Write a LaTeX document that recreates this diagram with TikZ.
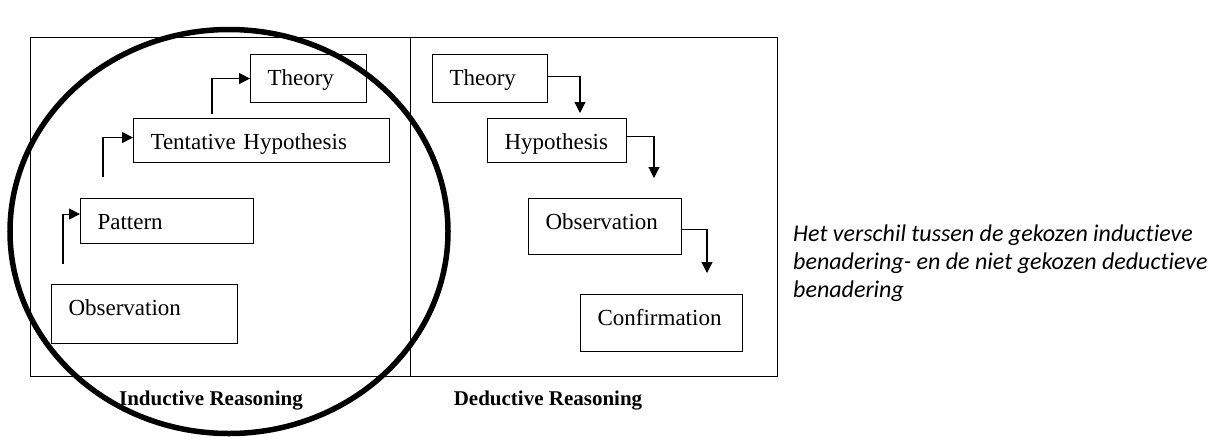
\documentclass[tikz,border=0pt]{standalone}
\usepackage{fontspec}
\setmainfont{Liberation Serif}
\newfontfamily\notefont[Ligatures=NoCommon]{Carlito}
\usetikzlibrary{arrows.meta,positioning}

\begin{document}
\begin{tikzpicture}[x=1pt,y=-1pt,
font=\fontsize{23}{27}\selectfont,
box/.style 2 args={draw, line width=1.1pt, anchor=north west, inner xsep=17pt, inner ysep=0pt, text width=#1, text height=30.5pt, text depth=#2, align=left},
arrow/.style={-{Triangle[length=11pt,width=11pt]}, line width=1.1pt},
lbl/.style={font=\bfseries\fontsize{21}{25}\selectfont, anchor=base},
panel/.style={draw, line width=0.9pt}
]
\useasboundingbox (0,0) rectangle (1217,437);
% panels
\draw[panel] (30,37) rectangle (410,376);
\draw[panel] (410,37) rectangle (777,376);
% inductive side
\node[box={82pt}{17.5pt}] (th1) at (250,54) {Theory};
\node[box={222pt}{13.5pt}] (hy1) at (133,118) {Tentative Hypothesis};
\node[box={139pt}{14.5pt}] (pa1) at (80,198) {Pattern};
\node[box={152pt}{28.5pt}] (ob1) at (51,284) {Observation};
\coordinate (s1) at (63,264);
\coordinate (s2) at (103,177);
\coordinate (s3) at (212,114);
\draw[arrow] (s1) |- ([yshift=7pt]pa1.west);
\draw[arrow] (s2) |- ([yshift=3pt]hy1.west);
\draw[arrow] (s3) |- (th1.west);
% deductive side
\node[box={81pt}{17.5pt}] (th2) at (432,54) {Theory};
\node[box={105pt}{13.5pt}] (hy2) at (487,118) {Hypothesis};
\node[box={119pt}{25.5pt}] (ob2) at (528,198) {Observation};
\node[box={128pt}{26.5pt}] (cf2) at (580,294) {Confirmation};
\coordinate (e1) at (580,113);
\coordinate (e2) at (654,178);
\coordinate (e3) at (707,273);
\draw[arrow] ([yshift=2pt]th2.east) -| (e1);
\draw[arrow] ([yshift=4pt]hy2.east) -| (e2);
\draw[arrow] ([yshift=-3pt]ob2.east) -| (e3);
% captions
\node[lbl] (ind) at (211,405) {Inductive Reasoning};
\node[lbl] (ded) at (548,405) {Deductive Reasoning};
\node[font=\notefont\itshape\fontsize{24}{28}\selectfont, anchor=north west, align=left, inner sep=0pt] (note) at (793,225)
  {Het verschil tussen de gekozen inductieve\\benadering- en de niet gekozen deductieve\\benadering};
% circle round the inductive side
\draw[line width=5.5pt] (229,231.5) ellipse [x radius=219, y radius=202];
\end{tikzpicture}
\end{document}
